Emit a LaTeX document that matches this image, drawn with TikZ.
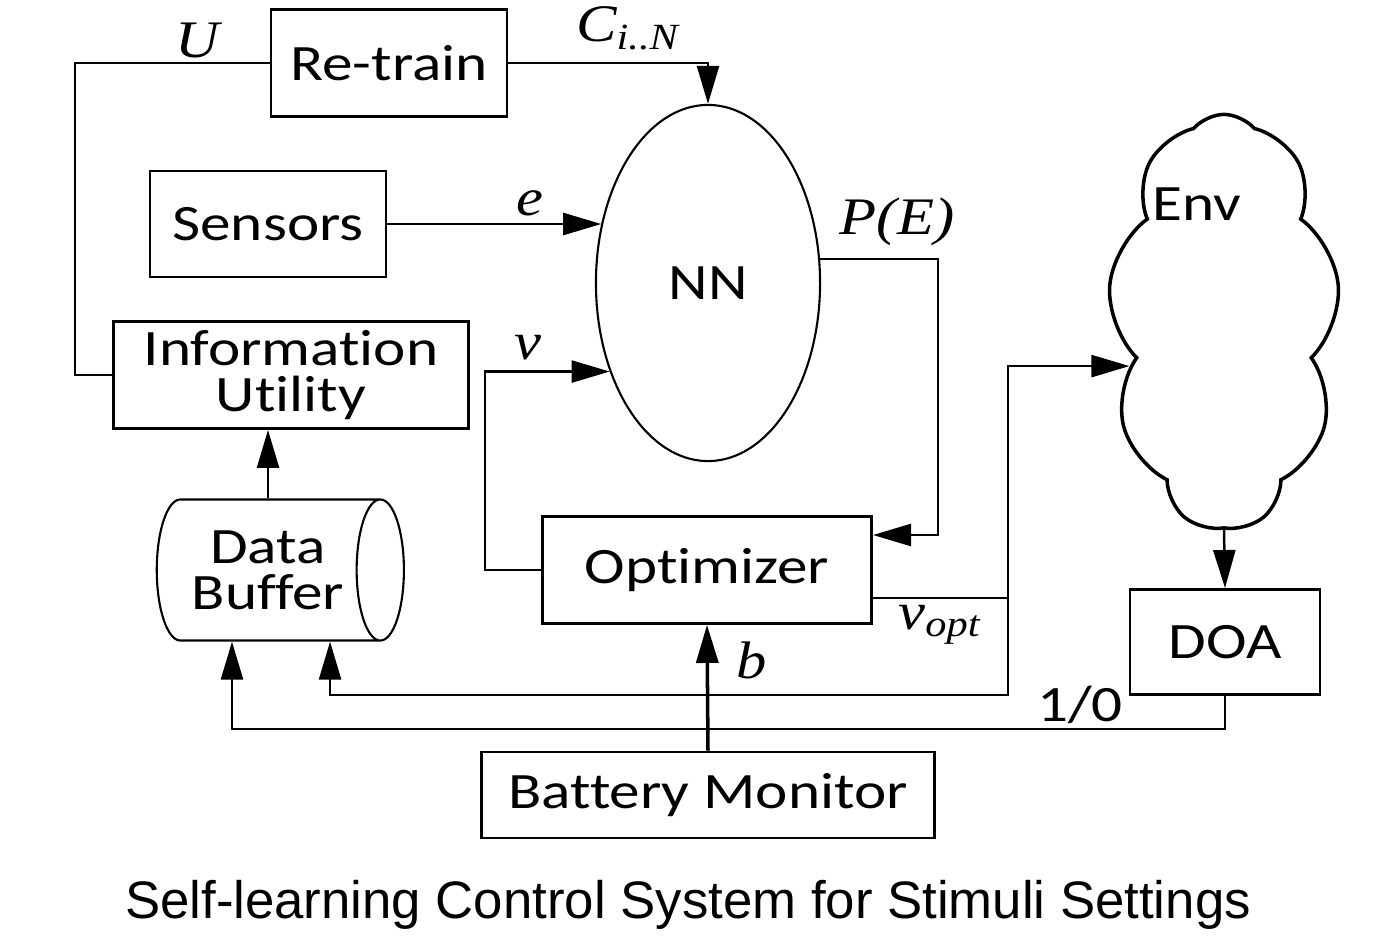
\documentclass[tikz,border=0pt]{standalone}
\usepackage{fontspec}
\usetikzlibrary{arrows.meta, shapes.geometric, shapes.symbols}
\newfontfamily\boxfont[FakeStretch=1.2, Ligatures=NoCommon]{Carlito}
\newfontfamily\lblfont[FakeStretch=1.15]{Liberation Serif}
\newfontfamily\capfont{Liberation Sans}

\begin{document}
\begin{tikzpicture}[
    x=0.01cm, y=-0.01cm,
    >={Triangle[length=0.38cm, width=0.22cm]},
    line width=0.7pt,
    boxtext/.style={font=\boxfont\fontsize{14.5pt}{13pt}\selectfont, align=center, inner sep=0pt},
    block/.style={draw, line width=0.8pt, boxtext},
    sig/.style={font=\lblfont\itshape\fontsize{15pt}{15pt}\selectfont, inner sep=0pt},
]
\useasboundingbox (0,0) rectangle (1399,936);
% Blocks
\node[block, minimum width=2.36cm, minimum height=1.07cm] (retrain) at (389,63) {Re-train};
\node[block, minimum width=2.36cm, minimum height=1.06cm] (sensors) at (268,224) {Sensors};
\node[block, minimum width=3.54cm, minimum height=1.07cm] (info) at (291,375) {Information\\Utility};
\node[block, minimum width=3.29cm, minimum height=1.07cm] (optimizer) at (707,570) {Optimizer};
\node[block, minimum width=1.90cm, minimum height=1.05cm] (doa) at (1225,642) {DOA};
\node[block, minimum width=4.52cm, minimum height=0.86cm] (battery) at (708,795) {Battery Monitor};
\node[draw, ellipse, line width=0.6pt, minimum width=2.24cm, minimum height=3.56cm, boxtext] (nn) at (708,283) {NN};
\node[draw, cylinder, aspect=0.6, line width=0.6pt, minimum width=1.41cm, minimum height=2.47cm, boxtext] (buffer) at (268,570) {Data\\Buffer};
\node[draw, cloud, cloud puffs=9, cloud puff arc=100, line width=1pt, minimum width=2.32cm, minimum height=4.15cm] (env) at (1224,322) {};
\node[boxtext] (envtext) at (1197,204) {Env};

% Connections
\coordinate (ucorner) at (75,63);
\coordinate (pecorner) at (938,535);
\coordinate (vsplit) at (1008,598);
\draw (retrain.west) -- (ucorner) |- (info.west);
\draw[->] (retrain.east) -| (nn.north);
\draw[->] (sensors.east) -- (sensors.east -| nn.151);
\draw[->] (optimizer.west) -- ++(-56,0) |- (nn.222);
\draw[->] (nn.12) -| (pecorner) -- (pecorner -| optimizer.east);
\draw (vsplit -| optimizer.east) -- (vsplit);
\draw[->] (vsplit) |- (env.205);
\draw[->] (vsplit) -- ++(0,97) -| ([xshift=0.62cm]buffer.south);
\draw[->] (env.south) -- (doa.north);
\draw[->] (doa.south) -- ++(0,33) -| ([xshift=-0.36cm]buffer.south);
\draw[->, line width=1pt] (battery.north) -- (optimizer.south);
\draw[->] (buffer.north) -- (buffer.north |- info.south);

% Signal labels
\node[sig] (ulbl) at (197,40) {U};
\node[sig] (clbl) at (628,28) {C\textsubscript{i..N}};
\node[sig] (elbl) at (530,203) {e};
\node[sig] (vlbl) at (528,348) {v};
\node[sig] (pelbl) at (897,222) {P(E)};
\node[sig] (voptlbl) at (940,625) {v\textsubscript{opt}};
\node[sig] (blbl) at (752,660) {b};
\node[boxtext] (bitlbl) at (1080,705) {1/0};

\node[font=\capfont\fontsize{15pt}{15pt}\selectfont] (caption) at (688,905) {Self-learning Control System for Stimuli Settings};
\end{tikzpicture}
\end{document}
